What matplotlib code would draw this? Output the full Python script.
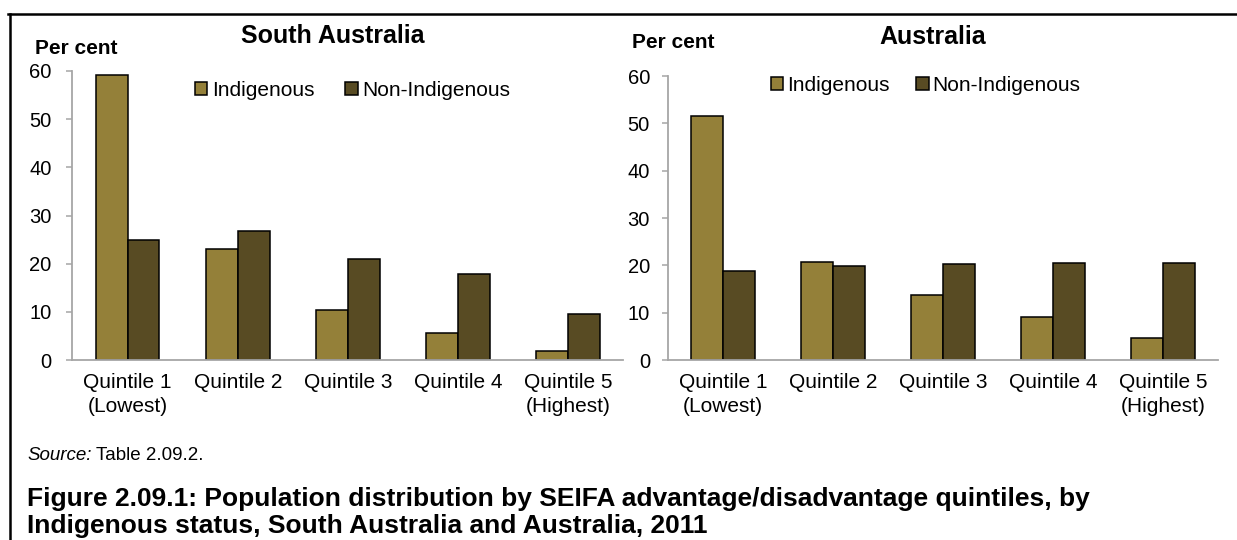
import numpy as np
import matplotlib
matplotlib.use("Agg")
import matplotlib.pyplot as plt
from matplotlib.lines import Line2D

plt.rcParams['font.family'] = ['Liberation Sans', 'DejaVu Sans']

# Data (per cent)
quintiles = ["Quintile 1\n(Lowest)", "Quintile 2", "Quintile 3", "Quintile 4", "Quintile 5\n(Highest)"]
series_names = ["Indigenous", "Non-Indigenous"]
sa_indigenous = [59.1, 23.1, 10.3, 5.6, 1.9]
sa_non_indigenous = [25.0, 26.7, 20.9, 17.9, 9.6]
aus_indigenous = [51.6, 20.8, 13.7, 9.1, 4.6]
aus_non_indigenous = [18.9, 19.9, 20.2, 20.4, 20.5]
yticks = [0, 10, 20, 30, 40, 50, 60]

c_ind = "#948039"
c_non = "#584B23"
axis_grey = "#A6A6A6"

W, H = 1237, 540
fig = plt.figure(figsize=(W / 100, H / 100), dpi=100)


def px_ax(x0, x1, y_top, y_bot):
    return [x0 / W, 1 - y_bot / H, (x1 - x0) / W, (y_bot - y_top) / H]


def draw_panel(ax, ind, non, ypad, leg_xy, colspace):
    x = np.arange(len(quintiles))
    bw = 0.29
    b1 = ax.bar(x - bw / 2, ind, bw, color=c_ind, edgecolor="black", linewidth=1.1, label=series_names[0])
    b2 = ax.bar(x + bw / 2, non, bw, color=c_non, edgecolor="black", linewidth=1.1, label=series_names[1])
    ax.set_xlim(-0.5, len(quintiles) - 0.5)
    ax.set_ylim(0, 60)
    ax.set_yticks(yticks)
    ax.set_xticks(x)
    ax.set_xticklabels(quintiles, fontsize=15, linespacing=1.35)
    for s in ["top", "right"]:
        ax.spines[s].set_visible(False)
    for s in ["left", "bottom"]:
        ax.spines[s].set_color(axis_grey)
        ax.spines[s].set_linewidth(1.3)
    ax.tick_params(axis="y", labelsize=14.5, length=4.5, width=1.1, color=axis_grey, pad=ypad)
    ax.tick_params(axis="x", length=0, pad=9.5)
    ax.legend(handles=[b1, b2], loc="center left", bbox_to_anchor=leg_xy, ncol=2, frameon=False,
              fontsize=15, handlelength=0.6, handleheight=0.6, handletextpad=0.2,
              columnspacing=colspace, borderpad=0, borderaxespad=0)


ax1 = fig.add_axes(px_ax(72.4, 623.4, 71, 360))
draw_panel(ax1, sa_indigenous, sa_non_indigenous, 10.5, (0.2225, 0.934), 1.5)

ax2 = fig.add_axes(px_ax(668, 1218, 76, 360))
draw_panel(ax2, aus_indigenous, aus_non_indigenous, 8.5, (0.187, 0.968), 1.25)


def ftext(x, y, s, **kw):
    fig.text(x / W, 1 - y / H, s, **kw)


ftext(333, 36, "South Australia", fontsize=18, fontweight="bold", ha="center", va="center")
ftext(35, 49, "Per cent", fontsize=15, fontweight="bold", ha="left", va="center")
ftext(933, 37, "Australia", fontsize=18, fontweight="bold", ha="center", va="center")
ftext(632, 43, "Per cent", fontsize=15, fontweight="bold", ha="left", va="center")

# source line
t = fig.text(27 / W, 1 - 456 / H, "Source:", fontsize=13.5, style="italic", ha="left", va="center")
fig.canvas.draw()
bb = t.get_window_extent()
fig.text((bb.x1 + 4) / W, 1 - 456 / H, "Table 2.09.2.", fontsize=13.5, ha="left", va="center")

# caption
ftext(27, 506, "Figure 2.09.1: Population distribution by SEIFA advantage/disadvantage quintiles, by",
      fontsize=19, fontweight="bold", ha="left", va="baseline")
ftext(27, 533, "Indigenous status, South Australia and Australia, 2011",
      fontsize=19, fontweight="bold", ha="left", va="baseline")

# frame lines (top and left)
fig.add_artist(Line2D([8 / W, 1], [1 - 14 / H, 1 - 14 / H], color="black", linewidth=1.8,
                      transform=fig.transFigure))
fig.add_artist(Line2D([9.5 / W, 9.5 / W], [1 - 14 / H, 0], color="black", linewidth=1.8,
                      transform=fig.transFigure))

fig.savefig("out.png", dpi=100)
